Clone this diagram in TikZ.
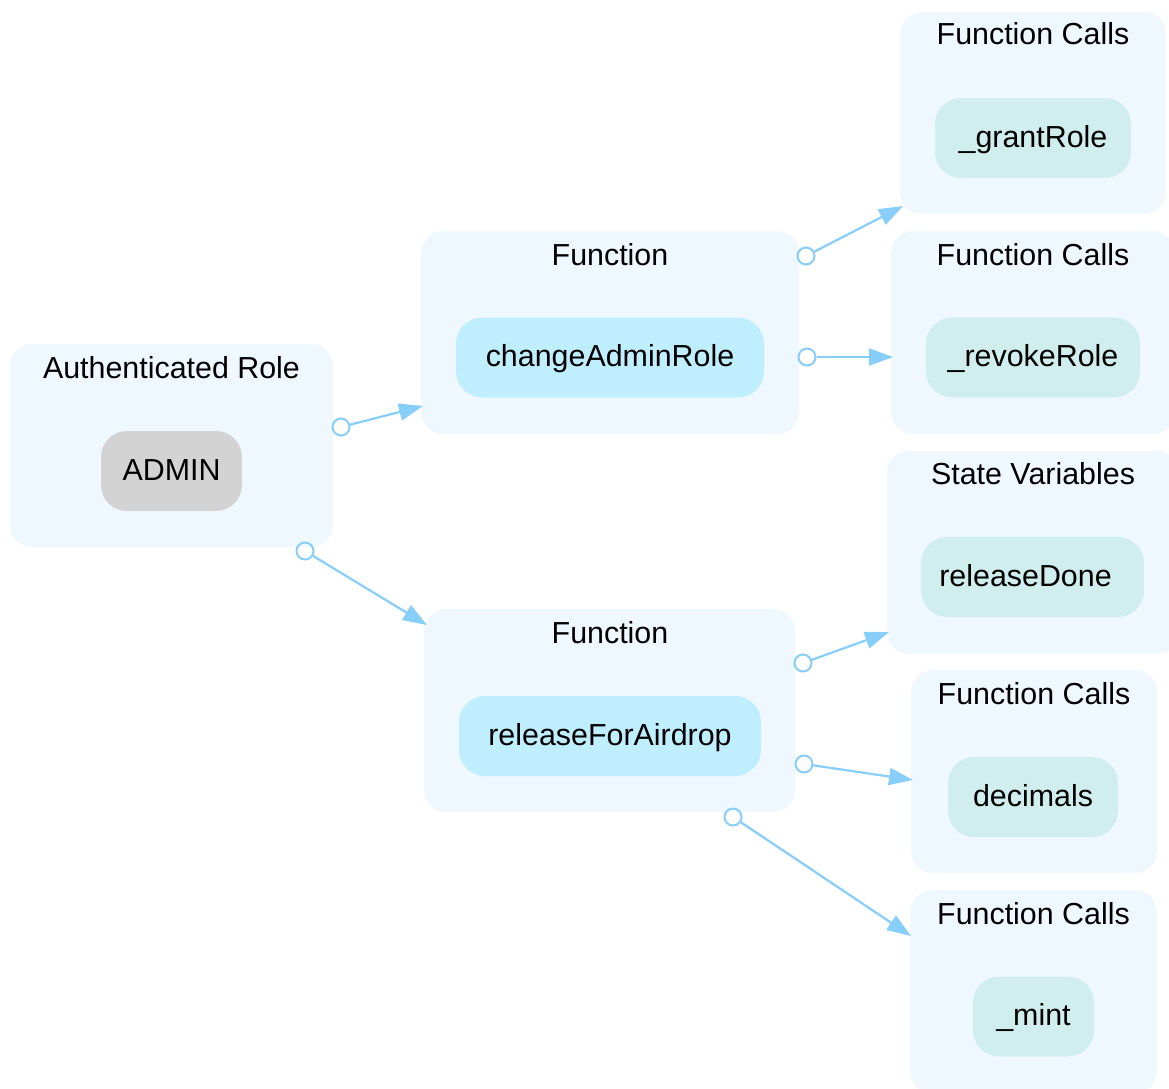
\documentclass[tikz,border=0pt]{standalone}
\usepackage{fontspec}
\setmainfont{Liberation Sans}
\usetikzlibrary{arrows.meta}
\definecolor{clusterbg}{HTML}{F0F8FF}
\definecolor{fnfill}{HTML}{BFEFFF}
\definecolor{callfill}{HTML}{D1EEEE}
\definecolor{rolefill}{HTML}{D3D3D3}
\definecolor{edgecol}{HTML}{87CEFA}
\begin{document}
\begin{tikzpicture}[x=1pt,y=-1pt,
  every node/.style={font=\fontsize{30.4}{36}\selectfont},
  cluster/.style={draw=none,fill=clusterbg,rounded corners=22pt,minimum height=203pt,inner sep=0pt},
  clabel/.style={anchor=base,inner sep=0pt},
  item/.style={draw=none,rounded corners=26pt,minimum height=80pt,inner sep=0pt,
    text height=24pt,text depth=6pt},
  fnbox/.style={item,fill=fnfill},
  callbox/.style={item,fill=callfill},
  rolebox/.style={item,fill=rolefill},
  tailmark/.style={circle,draw=edgecol,line width=2pt,minimum size=17pt,inner sep=0pt},
  link/.style={draw=edgecol,line width=2.2pt,-{Triangle[length=24pt,width=17pt]}}
]
\useasboundingbox[fill=white] (0,0) rectangle (1169,1088);

% cluster backgrounds
\node[cluster,minimum width=323pt] (authC) at (171.5,445.5) {};
\node[cluster,minimum width=378pt] (fnA) at (610,332.5) {};
\node[cluster,minimum width=371pt] (fnB) at (609.5,710.5) {};
\node[cluster,minimum width=266pt,minimum height=202pt] (callA) at (1033,113) {};
\node[cluster,minimum width=284pt] (callB) at (1033,332.5) {};
\node[cluster,minimum width=292pt] (stateC) at (1033,552.5) {};
\node[cluster,minimum width=246pt] (callC) at (1034,771.5) {};
\node[cluster,minimum width=247pt] (callD) at (1033.5,991.5) {};

% cluster titles
\node[clabel] (authT) at (171.5,378) {Authenticated Role};
\node[clabel] (fnAT) at (610,265) {Function};
\node[clabel] (fnBT) at (610,643) {Function};
\node[clabel] (callAT) at (1033,44) {Function Calls};
\node[clabel] (callBT) at (1033,265) {Function Calls};
\node[clabel] (stateT) at (1033,484) {State Variables};
\node[clabel] (callCT) at (1034,704) {Function Calls};
\node[clabel] (callDT) at (1033.5,924) {Function Calls};

% inner nodes
\node[rolebox,minimum width=141pt] (admin) at (171.5,471) {ADMIN};
\node[fnbox,minimum width=308pt] (change) at (610,357.5) {changeAdminRole};
\node[fnbox,minimum width=302pt] (release) at (610,736) {releaseForAirdrop};
\node[callbox,minimum width=196pt] (grant) at (1033,138) {\_grantRole};
\node[callbox,minimum width=214pt] (revoke) at (1033,357.5) {\_revokeRole};
\node[callbox,minimum width=223pt] (done) at (1032.5,577) {releaseDone\hspace*{14pt}};
\node[callbox,minimum width=170pt] (decimals) at (1033,797) {decimals};
\node[callbox,minimum width=121pt] (mint) at (1033.5,1016.5) {\_mint};

% connector tails
\node[tailmark] (t1) at (341,427) {};
\node[tailmark] (t2) at (305,551) {};
\node[tailmark] (t3) at (806,256) {};
\node[tailmark] (t4) at (807,357) {};
\node[tailmark] (t5) at (803,663) {};
\node[tailmark] (t6) at (804,764) {};
\node[tailmark] (t7) at (733,817) {};

% connector heads on cluster borders
\coordinate (h1) at (423,406);
\coordinate (h2) at (427,625);
\coordinate (h3) at (903,206);
\coordinate (h4) at (893,357);
\coordinate (h5) at (889,632);
\coordinate (h6) at (913,780);
\coordinate (h7) at (911,936);

\draw[link] (t1) -- (h1);
\draw[link] (t2) -- (h2);
\draw[link] (t3) -- (h3);
\draw[link] (t4) -- (h4);
\draw[link] (t5) -- (h5);
\draw[link] (t6) -- (h6);
\draw[link] (t7) -- (h7);
\end{tikzpicture}
\end{document}
